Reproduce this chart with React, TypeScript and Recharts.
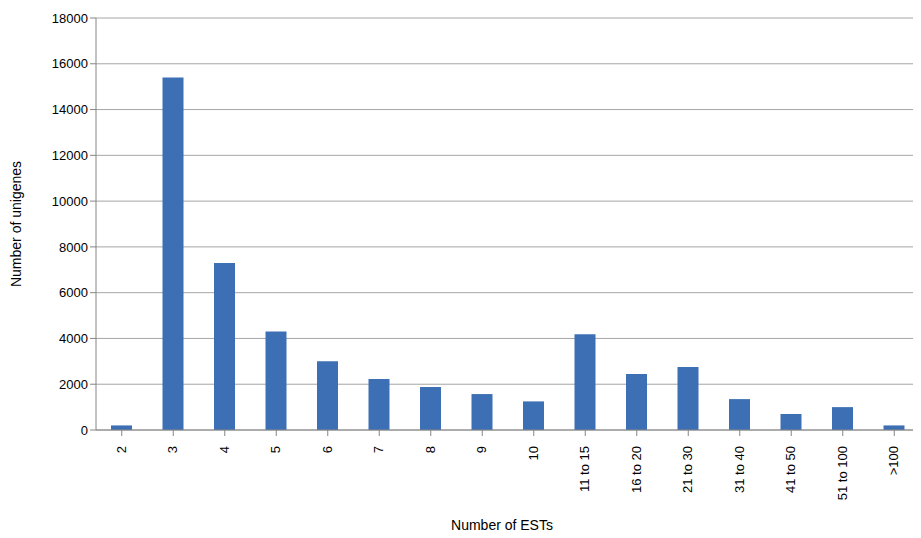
import React from "react";
import { BarChart, Bar, XAxis, YAxis, CartesianGrid, Label } from "recharts";

const categories = ["2","3","4","5","6","7","8","9","10","11 to 15","16 to 20","21 to 30","31 to 40","41 to 50","51 to 100",">100"];
const unigenes = [200,15400,7300,4300,3000,2230,1880,1570,1250,4180,2450,2750,1350,700,1000,200];
const yTicks = [0,2000,4000,6000,8000,10000,12000,14000,16000,18000];

const data = categories.map((c, i) => ({ cat: c, v: unigenes[i] }));

export default function App() {
  const font = "'Liberation Sans', Arial, sans-serif";
  return (
    <div style={{ margin: -8, fontFamily: font }}>
      <BarChart width={921} height={538} data={data}
        margin={{ top: 18, right: 1, left: 36, bottom: 18 }}>
        <CartesianGrid vertical={false} stroke="#a6a6a6" />
        <XAxis dataKey="cat" interval={0} angle={-90} textAnchor="end" dx={-5} dy={8}
          tick={{ fill: "#000", fontSize: 13, fontFamily: font }}
          stroke="#868686" tickLine={{ stroke: "#868686" }} height={90}>
          <Label value="Number of ESTs" position="insideBottom" offset={-10} dx={-6}
            style={{ fill: "#000", fontSize: 14, fontFamily: font }} />
        </XAxis>
        <YAxis ticks={yTicks} domain={[0, 18000]} width={60} interval={0}
          tick={{ fill: "#000", fontSize: 13, fontFamily: font }}
          stroke="#868686" tickLine={{ stroke: "#868686" }}>
          <Label value="Number of unigenes" angle={-90} position="insideLeft" offset={-20}
            style={{ fill: "#000", fontSize: 14, fontFamily: font, textAnchor: "middle" }} />
        </YAxis>
        <Bar dataKey="v" fill="#3d6fb4" barSize={21} isAnimationActive={false} />
      </BarChart>
    </div>
  );
}
